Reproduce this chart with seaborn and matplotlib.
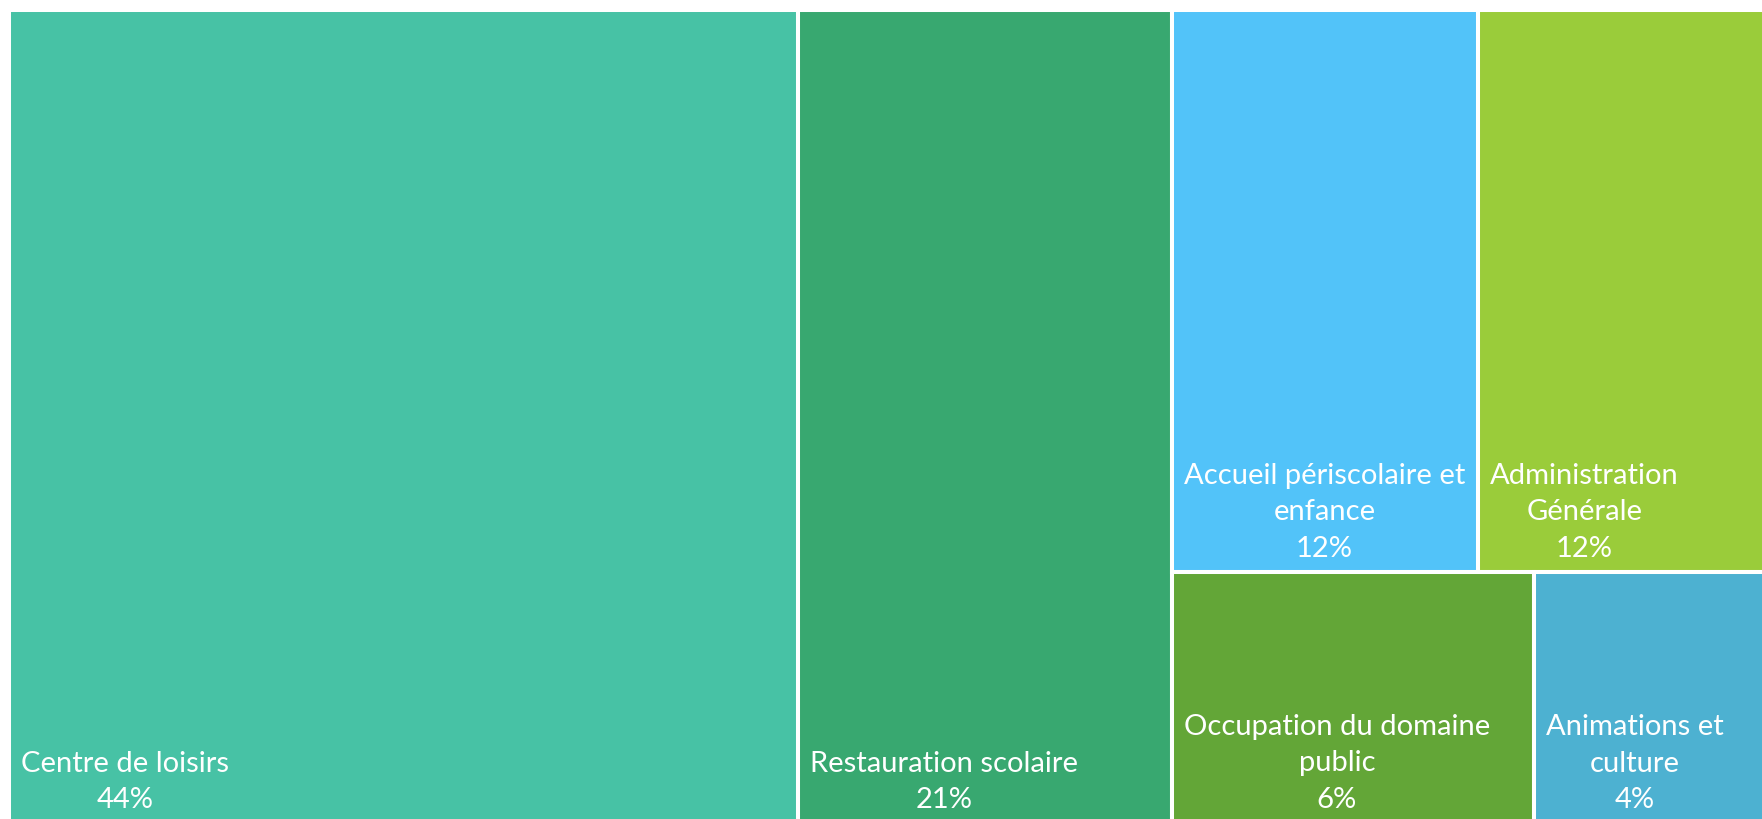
"""
Treemap of revenue share by activity, drawn with seaborn styling on matplotlib axes.
"""

import matplotlib
matplotlib.use("Agg")
import matplotlib.pyplot as plt
import matplotlib.transforms as mtransforms
import seaborn as sns

# data
categories = [
    "Centre de loisirs",
    "Restauration scolaire",
    "Accueil périscolaire et\nenfance",
    "Administration\nGénérale",
    "Occupation du domaine\npublic",
    "Animations et\nculture",
]
shares = [44.4, 21.0, 11.9, 12.0, 6.3, 4.4]
colors = ["#47C2A5", "#38A870", "#52C3F9", "#9ACC3A", "#63A637", "#4DB1D1"]

# treemap structure: columns -> rows -> cells (indices into the lists above)
layout = [
    [[0]],
    [[1]],
    [[2, 3], [4, 5]],
]


def treemap_rects(values, groups):
    """Return (x, y, w, h) per category in a unit square, y measured from the top."""
    total = sum(values)
    rects = {}
    x = 0.0
    for col in groups:
        col_sum = sum(values[i] for row in col for i in row)
        w_col = col_sum / total
        y = 0.0
        for row in col:
            row_sum = sum(values[i] for i in row)
            h_row = row_sum / col_sum
            cx = x
            for i in row:
                w = w_col * values[i] / row_sum
                rects[i] = (cx, y, w, h_row)
                cx += w
            y += h_row
        x += w_col
    return [rects[i] for i in range(len(values))]


sns.set_theme(style="white")
plt.rcParams["font.family"] = ["Lato", "DejaVu Sans"]

W, H = 1762, 819
fig = plt.figure(figsize=(W / 100, H / 100), dpi=100)
# the reference is cropped on the right and bottom edges
left_px, top_px, width_px, height_px = 9, 10, 1778, 813
ax = fig.add_axes([left_px / W, 1 - (top_px + height_px) / H, width_px / W, height_px / H])

rects = treemap_rects(shares, layout)
xs = [r[0] for r in rects]
ws = [r[2] for r in rects]
hs = [r[3] for r in rects]
bottoms = [1 - r[1] - r[3] for r in rects]

ax.bar(xs, hs, width=ws, bottom=bottoms, align="edge", color=colors,
       edgecolor="white", linewidth=2.9)

label_tr = mtransforms.offset_copy(ax.transData, fig=fig, x=12, y=15, units="dots")
for name, val, x, b in zip(categories, shares, xs, bottoms):
    ax.text(x, b, f"{name}\n{val:.0f}%", transform=label_tr, ha="left", va="baseline",
            multialignment="center", color="white", fontsize=21, linespacing=1.5)

ax.set_xlim(0, 1)
ax.set_ylim(0, 1)
ax.axis("off")
sns.despine(ax=ax, left=True, bottom=True)

fig.savefig("out.png", dpi=100, facecolor="white")
